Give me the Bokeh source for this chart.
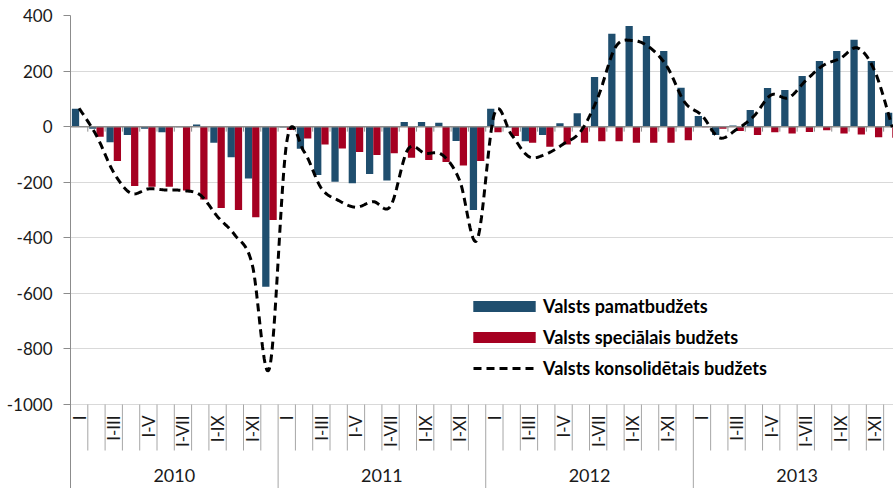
import math
import numpy as np
from bokeh.plotting import figure
from bokeh.models import Range1d, FixedTicker, Legend, LegendItem, ColumnDataSource
from bokeh.core.properties import value
from bokeh.embed import file_html
from bokeh.resources import INLINE

# ---------------- data ----------------
years = ["2010", "2011", "2012", "2013"]
period_labels = ["I", "", "I-III", "", "I-V", "", "I-VII", "", "I-IX", "", "I-XI", ""]

pamatbudzets = [
    64, -8, -56, -30, -8, -20, -2, 8, -58, -110, -187, -576,
    -3, -80, -174, -198, -204, -170, -194, 17, 17, 14, -52, -300,
    64, -3, -53, -30, 12, 48, 179, 334, 362, 326, 272, 140,
    38, -30, 4, 60, 139, 132, 182, 236, 272, 313, 236, 50,
]
specialais = [
    0, -36, -124, -214, -216, -216, -230, -262, -293, -300, -326, -336,
    -12, -43, -64, -79, -91, -102, -96, -112, -120, -127, -140, -124,
    -20, -34, -58, -72, -64, -58, -53, -53, -58, -58, -58, -49,
    -2, -8, -16, -30, -20, -25, -19, -13, -25, -28, -38, -40,
]
konsolidetais = [
    66, -32, -165, -240, -224, -228, -230, -246, -324, -390, -495, -870,
    -55, -90, -222, -266, -290, -270, -286, -82, -96, -102, -195, -408,
    46, -30, -108, -98, -62, -16, 108, 286, 310, 284, 214, 88,
    40, -40, -10, 38, 114, 104, 166, 220, 246, 283, 198, -2,
]
y_ticks = [-1000, -800, -600, -400, -200, 0, 200, 400]

series_names = ["Valsts pamatbudžets", "Valsts speciālais budžets", "Valsts konsolidētais budžets"]

# ---------------- style ----------------
FONT = "Lato"
BLUE = "#1f4e6e"
RED = "#a50021"
GRID = "#d9d9d9"
AXIS = "#8c8c8c"
SEP = "#a6a6a6"
TXT = "#1a1a1a"

n = len(years) * len(period_labels)
xc = np.arange(n) + 0.5
bar_w = 0.42

Y_MIN, Y_MAX = -1000, 400
PX_PER_UNIT = 389.0 / (Y_MAX - Y_MIN)
BOTTOM = Y_MIN - 84 / PX_PER_UNIT

p = figure(width=893, height=488,
           x_range=Range1d(0, 47.57), y_range=Range1d(BOTTOM, Y_MAX),
           x_axis_type=None, output_backend="svg", toolbar_location=None,
           min_border_left=70, min_border_right=0, min_border_top=15, min_border_bottom=0)
p.outline_line_color = None
p.background_fill_color = "white"

# y axis + grid
p.yaxis.ticker = FixedTicker(ticks=y_ticks)
p.yaxis.major_label_overrides = {t: str(t) for t in y_ticks}
p.yaxis.minor_tick_line_color = None
p.yaxis.major_tick_out = 7
p.yaxis.major_tick_in = 0
p.yaxis.major_tick_line_color = AXIS
p.yaxis.axis_line_color = AXIS
p.yaxis.major_label_standoff = 11
p.yaxis.major_label_text_font = FONT
p.yaxis.major_label_text_font_size = "17px"
p.yaxis.major_label_text_color = TXT
p.ygrid.ticker = FixedTicker(ticks=y_ticks)
p.ygrid.grid_line_color = GRID
p.ygrid.grid_line_width = 1

# bars
src = ColumnDataSource(dict(xb=xc - bar_w / 2, xr=xc + bar_w / 2,
                            pam=pamatbudzets, spec=specialais))
rb = p.vbar(x="xb", width=bar_w, top="pam", bottom=0, source=src,
            fill_color=BLUE, line_color=None)
rr = p.vbar(x="xr", width=bar_w, top="spec", bottom=0, source=src,
            fill_color=RED, line_color=None)

# zero axis with notches
bounds = np.arange(0, n + 1)
p.segment(x0=[0], y0=[0], x1=[n], y1=[0], line_color=AXIS, line_width=1.5)
notch = 5 / PX_PER_UNIT
p.segment(x0=bounds[1:], y0=0, x1=bounds[1:], y1=-notch, line_color=AXIS, line_width=1)


# smoothed consolidated line (Excel-style smoothing of the monthly points)
def smooth(xs, ys, steps=20):
    pts = np.column_stack([xs, ys]).astype(float)
    m = len(pts)
    out_x, out_y = [], []
    for i in range(m - 1):
        p0 = pts[i - 1] if i > 0 else pts[i]
        p1 = pts[i]
        p2 = pts[i + 1]
        p3 = pts[i + 2] if i + 2 < m else pts[i + 1]
        c1 = p1 + (p2 - p0) / 6.0
        c2 = p2 - (p3 - p1) / 6.0
        for t in np.linspace(0, 1, steps, endpoint=(i == m - 2)):
            b = ((1 - t) ** 3) * p1 + 3 * ((1 - t) ** 2) * t * c1 + 3 * (1 - t) * t * t * c2 + t ** 3 * p2
            out_x.append(b[0])
            out_y.append(b[1])
    return out_x, out_y


sx, sy = smooth(xc, konsolidetais)
rl = p.line(sx, sy, line_color="black", line_width=3, line_dash="8 5")

# category separators below the plot
sep_len = 46 / PX_PER_UNIT
month_b = [b for b in bounds[1:] if b % len(period_labels) != 0]
year_b = [b for b in bounds[1:] if b % len(period_labels) == 0]
p.segment(x0=month_b, y0=Y_MIN, x1=month_b, y1=Y_MIN - sep_len, line_color=SEP, line_width=1)
p.segment(x0=year_b, y0=Y_MIN, x1=year_b, y1=BOTTOM, line_color=SEP, line_width=1)

# period labels (rotated)
lab_x = [xc[i] for i in range(n) if period_labels[i % len(period_labels)]]
lab_t = [period_labels[i % len(period_labels)] for i in range(n) if period_labels[i % len(period_labels)]]
p.text(x=lab_x, y=Y_MIN - 11 / PX_PER_UNIT, text=lab_t, angle=math.pi / 2,
       text_align="right", text_baseline="middle",
       text_font=value(FONT), text_font_size=value("17px"), text_color=TXT)

# year labels
yr_x = [(k + 0.5) * len(period_labels) for k in range(len(years))]
p.text(x=yr_x, y=Y_MIN - 71 / PX_PER_UNIT, text=years,
       text_align="center", text_baseline="middle",
       text_font=value(FONT), text_font_size=value("18px"), text_color=TXT)

common = dict(orientation="vertical", label_height=22, spacing=9, padding=0, margin=0,
              label_text_font=FONT, label_text_font_style="bold",
              label_text_font_size="18px", label_text_color="#000000",
              background_fill_alpha=0, border_line_alpha=0)
legend_bars = Legend(items=[LegendItem(label=series_names[0], renderers=[rb]),
                            LegendItem(label=series_names[1], renderers=[rr])],
                     location=(395, 140), glyph_width=78, glyph_height=14,
                     label_standoff=0, **common)
legend_line = Legend(items=[LegendItem(label=series_names[2], renderers=[rl])],
                     location=(403, 109), glyph_width=62, glyph_height=14,
                     label_standoff=8, **common)
p.add_layout(legend_bars)
p.add_layout(legend_line)

open("out.html", "w").write(file_html(p, INLINE))
